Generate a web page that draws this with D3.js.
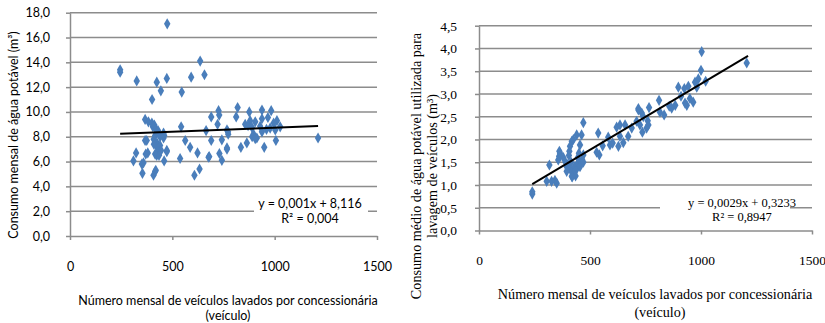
<!DOCTYPE html>
<html><head><meta charset="utf-8">
<script src="https://cdn.jsdelivr.net/npm/d3@7"></script>
<style>
html,body{margin:0;padding:0;background:#fff;}
svg{display:block;}
</style></head>
<body>
<svg id="c" width="825" height="323"></svg>
<script>
// ---------- DATA ----------
const xTicks = [0, 500, 1000, 1500];
const yTicksLeft = [0, 2, 4, 6, 8, 10, 12, 14, 16, 18];
const yTicksRight = [0, 0.5, 1, 1.5, 2, 2.5, 3, 3.5, 4, 4.5];

const leftX = [245,245,475,636,657,592,326,424,473,444,546,401,
  367,383,400,412,405,420,430,457,416,457,409,367,440,460,425,440,424,473,380,323,424,543,563,587,623,375,410,430,445,
  310,351,359,354,408,416,419,370,416,435,460,473,538,608,633,677,
  690,726,729,721,665,767,773,690,742,767,730,680,742,
  819,876,938,983,812,856,880,905,938,967,1011,995,1027,929,889,978,1003,938,897,913,772,767,835,864,949,1006,1212,890,905,960,870];
const leftY = [13.4,13.2,17.1,14.1,13.0,12.8,12.5,12.4,12.7,11.7,11.6,11.0,
  9.4,9.2,9.1,8.95,8.8,8.6,8.5,8.3,8.1,7.9,7.8,7.7,8.0,8.1,7.5,7.3,7.2,6.9,6.7,6.7,6.5,8.8,7.7,7.15,6.7,7.7,7.4,6.8,6.9,
  6.05,5.8,5.9,5.05,4.9,5.2,5.3,6.6,6.6,6.5,6.05,6.8,6.25,4.9,5.4,6.35,
  9.6,10.1,9.75,9.0,8.5,8.55,8.2,7.7,7.75,7.1,6.65,6.4,6.1,
  10.35,10.0,10.15,10.1,9.6,9.0,9.3,9.2,9.45,9.55,9.3,9.1,8.8,8.85,8.75,8.7,8.55,8.4,8.2,7.9,8.4,7.0,7.15,7.5,7.15,7.7,7.9,8.0,7.85,8.6,8.9];

const rightX = [240,240,305,327,342,350,317,361,365,357,362,407,395,418,440,470,542,530,418,410,425,440,462,470,455,537,557,582,590,602,635,628,650,620,635,658,672,688,710,718,
  400,410,420,415,430,440,450,460,425,435,445,455,470,465,390,380,405,395,420,450,
  1003,1000,1206,1021,988,973,981,943,925,898,965,936,928,884,868,857,811,815,834,766,718,733,740,760,763,736,755,725,950,910];
const rightY = [0.80,0.85,1.08,1.08,1.1,1.04,1.44,1.63,1.7,1.55,1.74,1.74,1.4,1.19,1.44,1.66,1.66,1.72,1.96,1.85,2.0,2.1,2.1,2.37,1.88,2.14,1.86,2.05,1.88,1.92,2.07,1.85,1.93,2.27,2.32,2.32,2.07,2.25,2.40,2.65,
  1.45,1.35,1.3,1.5,1.4,1.35,1.45,1.5,1.25,1.2,1.6,1.4,1.5,1.55,1.5,1.6,1.65,1.3,1.18,1.7,
  3.93,3.52,3.68,3.28,3.33,3.26,3.15,3.17,3.12,3.15,2.82,2.75,2.80,2.75,2.69,2.73,2.86,2.60,2.54,2.70,2.68,2.58,2.5,2.41,2.32,2.16,2.25,2.32,2.9,2.95];

// trend lines (as drawn): [x0, x1], slope, intercept
const leftTrendX = [245, 1212];
const leftTrendCoef = [0.00064, 8.09];
const rightTrendX = [240, 1212];
const rightTrendCoef = [0.0029, 0.3233];

const leftEq = ["y = 0,001x + 8,116", "R² = 0,004"];
const rightEq = ["y = 0,0029x + 0,3233", "R² = 0,8947"];
const xTitle = ["Número mensal de veículos lavados por concessionária", "(veículo)"];
const leftYTitle = ["Consumo mensal de água potável (m³)"];
const rightYTitle = ["Consumo médio de água potável utilizada para", "lavagem de veículos (m³)"];

// ---------- DRAW ----------
const svg = d3.select("#c");
const fmt = d => d3.format(".1f")(d).replace(".", ",");
const diamond = d3.symbol().type(d3.symbolDiamond).size(36);

function chart(o) {
  const g = svg.append("g");
  const x = d3.scaleLinear().domain([0, 1500]).range(o.xr);
  const y = d3.scaleLinear().domain([0, o.ymax]).range(o.yr);
  g.append("g").selectAll("line").data(o.yTicks.filter(d => d > 0)).join("line")
    .attr("x1", o.xr[0]).attr("x2", o.xr[1])
    .attr("y1", d => y(d)).attr("y2", d => y(d))
    .attr("stroke", "#8c8c8c").attr("stroke-width", o.gw);
  const ya = g.append("g").attr("transform", `translate(${o.xr[0]},0)`)
    .call(d3.axisLeft(y).tickValues(o.yTicks).tickFormat(fmt).tickSizeInner(4).tickSizeOuter(0).tickPadding(o.ypad));
  const xa = g.append("g").attr("transform", `translate(0,${o.yr[0]})`)
    .call(d3.axisBottom(x).tickValues(xTicks).tickFormat(d3.format("d")).tickSizeInner(4).tickSizeOuter(0).tickPadding(o.xpad));
  [ya, xa].forEach(a => {
    a.select(".domain").attr("stroke", "#8c8c8c").attr("stroke-width", o.gw);
    a.selectAll(".tick line").attr("stroke", "#8c8c8c").attr("stroke-width", o.gw);
    a.selectAll("text").attr("fill", "#000").style("font-family", o.font).style("font-size", o.fs + "px");
  });
  g.append("g").selectAll("path").data(o.px.map((v, i) => [v, o.py[i]])).join("path")
    .attr("d", diamond)
    .attr("transform", d => `translate(${x(d[0])},${y(d[1])})`)
    .attr("fill", "#4a7ebb");
  const tf = v => o.coef[0] * v + o.coef[1];
  g.append("line")
    .attr("x1", x(o.tx[0])).attr("y1", y(tf(o.tx[0])))
    .attr("x2", x(o.tx[1])).attr("y2", y(tf(o.tx[1])))
    .attr("stroke", "#000").attr("stroke-width", 2);
  g.append("rect").attr("x", o.eqBox[0]).attr("y", o.eqBox[1]).attr("width", o.eqBox[2]).attr("height", o.eqBox[3]).attr("fill", "#fff");
  g.append("text").attr("text-anchor", "middle").style("font-family", o.font).style("font-size", o.efs + "px")
    .selectAll("tspan").data(o.eq).join("tspan")
    .attr("x", o.eqPos[0]).attr("y", (d, i) => o.eqPos[1] + i * o.eqLh).text(d => d);
  g.append("text").attr("text-anchor", "middle").style("font-family", o.font).style("font-size", o.tfs + "px")
    .selectAll("tspan").data(xTitle).join("tspan")
    .attr("x", (d, i) => o.xtPos[i][0]).attr("y", (d, i) => o.xtPos[i][1]).text(d => d);
  const yt = g.append("text").attr("text-anchor", "middle")
    .attr("transform", `translate(${o.ytPos[0]},${o.ytPos[1]}) rotate(-90)`)
    .style("font-family", o.font).style("font-size", o.tfs + "px");
  yt.selectAll("tspan").data(o.yTitle).join("tspan")
    .attr("x", 0).attr("y", (d, i) => i * o.ytLh).text(d => d);
}

chart({
  xr: [70, 377], yr: [236, 12.7], ymax: 18, yTicks: yTicksLeft,
  font: "Lato, 'Open Sans', sans-serif", fs: 12.5, tfs: 12.5, efs: 12.5, gw: 1.5, ypad: 16, xpad: 22,
  px: leftX, py: leftY, tx: leftTrendX, coef: leftTrendCoef,
  eq: leftEq, eqBox: [254, 195, 114, 32], eqPos: [310, 208], eqLh: 15,
  xtPos: [[228, 305], [228, 320]], yTitle: leftYTitle, ytPos: [18, 135], ytLh: 0
});

chart({
  xr: [479, 812], yr: [230.5, 25.7], ymax: 4.5, yTicks: yTicksRight,
  font: "'Liberation Serif', 'Times New Roman', serif", fs: 13.5, tfs: 14.2, efs: 12.5, gw: 1.5, ypad: 18, xpad: 21,
  px: rightX, py: rightY, tx: rightTrendX, coef: rightTrendCoef,
  eq: rightEq, eqBox: [660, 193, 130, 30], eqPos: [742, 207], eqLh: 14,
  xtPos: [[655, 299], [660, 317]], yTitle: rightYTitle, ytPos: [421, 166], ytLh: 15.5
});
</script>
</body></html>
